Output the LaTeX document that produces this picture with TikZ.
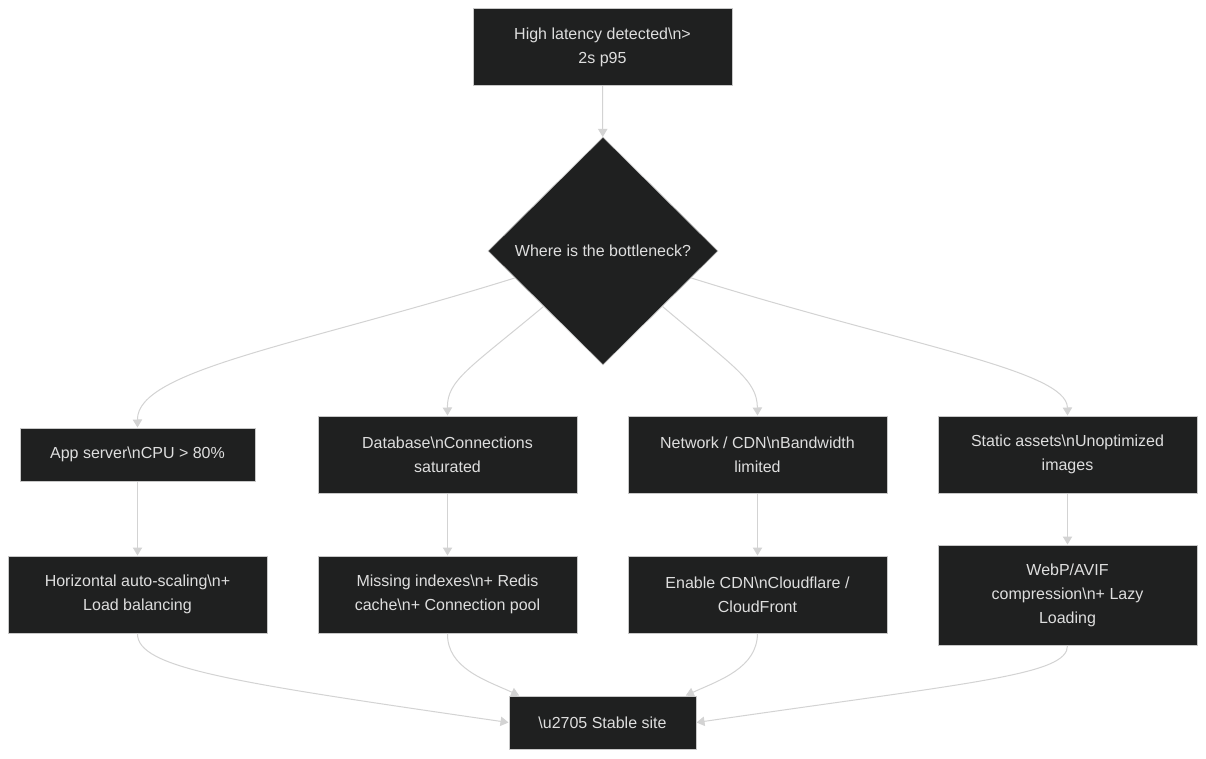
\documentclass[tikz,border=0pt]{standalone}
\usepackage{fontspec}
\setmainfont{Liberation Sans}
\usepackage{xcolor}
\usetikzlibrary{arrows.meta}
\usetikzlibrary{shapes.geometric}
\definecolor{nodefill}{RGB}{31, 32, 32}
\definecolor{nodeline}{RGB}{200, 200, 200}
\definecolor{nodetext}{RGB}{222, 222, 222}
\definecolor{edgeline}{RGB}{211, 211, 211}
\newcommand{\bsl}{\textbackslash}

\begin{document}
\begin{tikzpicture}[x=0.75pt, y=-0.75pt,
    every node/.style={font=\fontsize{12}{18}\selectfont, text=nodetext, align=center},
    box/.style={draw=nodeline, line width=0.75pt, fill=nodefill, inner sep=0pt,
      minimum width=194.25pt, minimum height=57.75pt},
    decision/.style={diamond, draw=nodeline, line width=0.5pt, fill=nodefill, inner sep=0pt,
      minimum width=172.5pt, minimum height=171pt},
    flow/.style={draw=edgeline, line width=0.75pt,
      -{Triangle[length=6pt, width=7pt, fill=edgeline]}}]
  \useasboundingbox[fill=white] (0,0) rectangle (1206,759);

  % start and decision
  \node[box] (alert) at (602.5,47) {High latency detected\bsl n>\\2s p95};
  \node[decision] (where) at (603,251) {Where is the bottleneck?};

  % causes
  \node[box, minimum width=176.25pt, minimum height=39.75pt] (app) at (137.5,454.5) {App server\bsl nCPU > 80\%};
  \node[box] (db) at (447.5,454.5) {Database\bsl nConnections\\saturated};
  \node[box] (net) at (757.5,454.5) {Network / CDN\bsl nBandwidth\\limited};
  \node[box] (static) at (1067.5,454.5) {Static assets\bsl nUnoptimized\\images};

  % fixes
  \node[box] (scale) at (137.5,594.5) {Horizontal auto-scaling\bsl n+\\Load balancing};
  \node[box] (index) at (447.5,594.5) {Missing indexes\bsl n+ Redis\\cache\bsl n+ Connection pool};
  \node[box] (cdn) at (757.5,594.5) {Enable CDN\bsl nCloudflare /\\CloudFront};
  \node[box, minimum height=75pt] (webp) at (1067.5,595) {WebP/AVIF\\compression\bsl n+ Lazy\\Loading};

  % result
  \node[box, minimum width=140.25pt, minimum height=39.75pt] (stable) at (602.5,722.5) {\bsl u2705 Stable site};

  \draw[flow] (alert) -- (where);

  \draw[flow] (where.197) .. controls (300,345) and (137,370) .. (app.north);
  \draw[flow] (where.223) .. controls (470,368) and (447,380) .. (db.north);
  \draw[flow] (where.317) .. controls (735,368) and (757,380) .. (net.north);
  \draw[flow] (where.343) .. controls (905,345) and (1067,370) .. (static.north);

  \foreach \cause/\fix in {app/scale, db/index, net/cdn, static/webp}{
    \draw[flow] (\cause) -- (\fix);
  }

  \draw[flow] (scale.south) .. controls (137,668) and (230,682) .. (stable.west);
  \draw[flow] (index.south) .. controls (447,668) and (485,680) .. ([xshift=8pt]stable.north west);
  \draw[flow] (cdn.south) .. controls (757,668) and (720,680) .. ([xshift=-8pt]stable.north east);
  \draw[flow] (webp.south) .. controls (1068,675) and (975,682) .. (stable.east);

\end{tikzpicture}
\end{document}
